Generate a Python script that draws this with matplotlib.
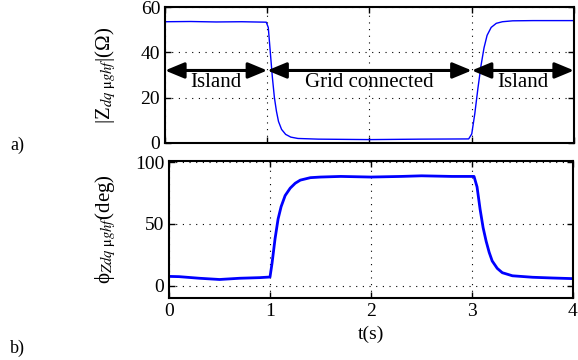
import matplotlib.pyplot as plt

plt.rcParams['font.family'] = ['Liberation Serif', 'DejaVu Serif']
plt.rcParams['mathtext.fontset'] = 'stix'

# |Z| (top) samples
t_mag = [0, 0.25, 0.5, 0.75, 0.99, 1.01, 1.03, 1.05, 1.07, 1.09, 1.11, 1.14, 1.18, 1.23,
         1.3, 1.5, 2.0, 2.5, 2.97, 3.0, 3.03, 3.06, 3.09, 3.12, 3.15, 3.19, 3.24, 3.3,
         3.4, 3.6, 4.0]
z_mag = [53.5, 53.6, 53.4, 53.5, 53.3, 51, 40, 29, 20, 14, 9.5, 6, 3.8, 2.6,
         2.0, 1.7, 1.5, 1.7, 1.8, 4, 13, 24, 34, 42, 47.5, 51, 52.8, 53.5,
         53.9, 54, 54]

# phase (bottom)
t_ph = [0, 0.1, 0.3, 0.5, 0.7, 0.9, 1.0, 1.02, 1.05, 1.08, 1.11, 1.15, 1.2, 1.25, 1.3,
        1.4, 1.5, 1.7, 2.0, 2.3, 2.5, 2.8, 3.02, 3.05, 3.08, 3.11, 3.14, 3.17, 3.2,
        3.25, 3.3, 3.4, 3.6, 3.8, 4.0]
phi = [7.5, 7.3, 6, 5, 6, 6.5, 7, 18, 38, 54, 64, 73, 79, 83, 85.5,
       87.5, 88, 88.5, 88, 88.5, 89, 88.5, 88.5, 80, 62, 47, 36, 27, 20,
       14, 10.5, 8, 6.8, 6.2, 5.7]

# mode intervals for arrows
modes = ["Island", "Grid connected", "Island"]
mode_edges = [0, 1, 3, 4]

fig = plt.figure(figsize=(5.78, 3.6), dpi=100)
W, H = 578, 360
ax1 = fig.add_axes([165 / W, 1 - 143 / H, (574 - 165) / W, (143 - 7) / H])
ax2 = fig.add_axes([169 / W, 1 - 298 / H, (573 - 169) / W, (298 - 161) / H])

ax1.plot(t_mag, z_mag, color='#0000ff', lw=1.0)
ax2.plot(t_ph, phi, color='#0000ff', lw=2.0)

for i, name in enumerate(modes):
    a, b = mode_edges[i], mode_edges[i + 1]
    ax1.annotate('', xy=(b, 32), xytext=(a, 32),
                 arrowprops=dict(arrowstyle='<|-|>,head_length=0.58,head_width=0.24',
                                 color='black', lw=2.2,
                                 mutation_scale=20, shrinkA=0, shrinkB=0))
    ax1.text((a + b) / 2, 26.5, name, ha='center', va='center', fontsize=15)

ax1.set_xlim(0, 4)
ax1.set_ylim(0, 60)
ax1.set_yticks([0, 20, 40, 60])
ax1.set_xticks([0, 1, 2, 3, 4])
ax1.set_xticklabels([])
ax1.set_ylabel(r'|Z$_{dq\ \mathrm{\mu} ghf}$|(Ω)', fontsize=15)
ax1.yaxis.set_label_coords(-0.115, 0.5)

ax2.set_xlim(0, 4)
ax2.set_ylim(-10, 101)
ax2.set_yticks([0, 50, 100])
ax2.set_xticks([0, 1, 2, 3, 4])
ax2.set_xlabel('t(s)', fontsize=14)
ax2.set_ylabel(r'ϕ$_{Zdq\ \mathrm{\mu} ghf}$(deg)', fontsize=15)
ax2.yaxis.set_label_coords(-0.126, 0.5)

for ax in (ax1, ax2):
    ax.grid(True, color='black', linestyle=(0, (1, 5)), lw=0.8)
    ax.tick_params(direction='in', top=True, right=True, labelsize=14, length=4, width=1)
    for s in ax.spines.values():
        s.set_linewidth(1.5)

fig.text(10 / W, 1 - 145 / H, 'a)', fontsize=13, va='center')
fig.text(10 / W, 1 - 348 / H, 'b)', fontsize=13, va='center')

fig.savefig('out.png', dpi=100)
